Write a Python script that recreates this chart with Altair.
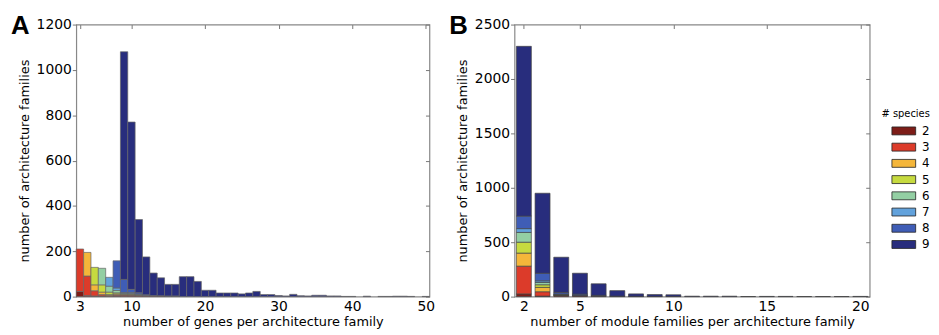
import altair as alt
import pandas as pd

SPECIES = [2, 3, 4, 5, 6, 7, 8, 9]
COLORS = ["#7d1d18", "#dc3b2a", "#f4b63a", "#c6da3f", "#93cfa3", "#62a2dc", "#3f5db6", "#282d7d"]

# Panel A: number of genes per architecture family (3..50)
A_N = list(range(3, 51))
Z34 = [0] * 34
A_S2 = [23, 5, 3, 3, 2, 4, 6, 6, 5, 4, 3, 3, 2, 2] + Z34
A_S3 = [187, 86, 23, 6, 3, 4, 3, 2, 1, 1, 0, 0, 0, 0] + Z34
A_S4 = [0, 104, 26, 11, 4, 4, 2, 2, 1, 0, 0, 0, 0, 0] + Z34
A_S5 = [0, 0, 77, 32, 11, 5, 2, 2, 1, 0, 0, 0, 0, 0] + Z34
A_S6 = [0, 0, 0, 73, 26, 10, 2, 2, 1, 0, 0, 0, 0, 0] + Z34
A_S7 = [0, 0, 0, 0, 39, 11, 3, 4, 2, 0, 0, 0, 0, 0] + Z34
A_S8 = [0, 0, 0, 0, 0, 120, 58, 14, 6, 3, 2, 1, 1, 1] + Z34
A_S9 = [0, 0, 0, 0, 0, 0, 1004, 738, 323, 167, 99, 79, 51, 51,
        88, 88, 67, 28, 28, 16, 16, 16, 12, 16, 23, 9, 9, 5, 3, 10, 4, 3,
        6, 6, 3, 3, 1, 1, 0, 2, 0, 1, 1, 2, 2, 1, 0, 1]

# Panel B: number of module families per architecture family (2..20)
B_N = list(range(2, 21))
B_S2 = [25, 5, 10, 8, 5, 3, 2, 1, 1, 0, 0, 0, 0, 0, 0, 0, 0, 0, 0]
B_S3 = [255, 40, 3, 2, 0, 0, 0, 0, 0, 0, 0, 0, 0, 0, 0, 0, 0, 0, 0]
B_S4 = [120, 40, 2, 0, 0, 0, 0, 0, 0, 0, 0, 0, 0, 0, 0, 0, 0, 0, 0]
B_S5 = [100, 24, 2, 0, 0, 0, 0, 0, 0, 0, 0, 0, 0, 0, 0, 0, 0, 0, 0]
B_S6 = [90, 21, 2, 0, 0, 0, 0, 0, 0, 0, 0, 0, 0, 0, 0, 0, 0, 0, 0]
B_S7 = [35, 15, 5, 3, 2, 0, 0, 0, 0, 0, 0, 0, 0, 0, 0, 0, 0, 0, 0]
B_S8 = [115, 70, 15, 10, 5, 2, 1, 1, 0, 0, 0, 0, 0, 0, 0, 0, 0, 0, 0]
B_S9 = [1560, 735, 323, 192, 106, 50, 22, 17, 16, 4, 4, 4, 1, 2, 2, 1, 1, 1, 2]

A_XTICKS = [3, 10, 20, 30, 40, 50]
A_YTICKS = [0, 200, 400, 600, 800, 1000, 1200]
B_XTICKS = [2, 5, 10, 15, 20]
B_YTICKS = [0, 500, 1000, 1500, 2000, 2500]

FONT = "DejaVu Sans"
TICK = "#777777"


def long_df(ns, series):
    rows = []
    for sp, vals in zip(SPECIES, series):
        for n, v in zip(ns, vals):
            if v > 0:
                rows.append({"n": n, "species": sp, "count": v})
    return pd.DataFrame(rows)


def panel(df, xdom, ydom, xticks, yticks, xtitle, half, letter, legend, width, stroke):
    base = (
        alt.Chart(df)
        .transform_calculate(x0=f"datum.n - {half}", x1=f"datum.n + {half}")
        .transform_stack(stack="count", groupby=["n"],
                         sort=[alt.SortField("species", order="ascending")],
                         as_=["y0", "y1"])
    )
    xs = alt.Scale(domain=xdom, nice=False, zero=False)
    ys = alt.Scale(domain=ydom, nice=False)
    bars = base.mark_bar(stroke=stroke, strokeWidth=0.7, opacity=1).encode(
        x=alt.X("x0:Q", scale=xs,
                axis=alt.Axis(values=xticks, title=xtitle, ticks=False, domain=False, format="d",
                              labelPadding=3, titlePadding=2, grid=False, labelFlush=False)),
        x2="x1:Q",
        y=alt.Y("y0:Q", scale=ys,
                axis=alt.Axis(values=yticks, title="number of architecture families", format="d",
                              tickSize=4, tickColor=TICK, domain=False, labelPadding=1,
                              titlePadding=5, grid=False, labelFlush=False)),
        y2="y1:Q",
        color=alt.Color("species:O", scale=alt.Scale(domain=SPECIES, range=COLORS),
                        legend=legend),
    )
    ghost = base.mark_bar(opacity=0).encode(
        x=alt.X("x0:Q", scale=xs,
                axis=alt.Axis(orient="top", values=xticks, labels=False, title=None,
                              domain=False, tickSize=4, offset=-4, tickColor=TICK, grid=False)),
        x2="x1:Q",
        y=alt.Y("y0:Q", scale=ys,
                axis=alt.Axis(orient="right", values=yticks, labels=False, title=None,
                              domain=False, tickSize=4, offset=-4, tickColor=TICK, grid=False)),
        y2="y1:Q",
    )
    lab = alt.Chart(pd.DataFrame({"label": [letter]})).mark_text(
        align="left", baseline="alphabetic", fontSize=26, fontWeight="bold",
        font="Liberation Sans", color="black"
    ).encode(text="label:N", x=alt.value(-66), y=alt.value(10))
    return (
        alt.layer(bars, ghost, lab)
        .resolve_axis(x="independent", y="independent")
        .properties(width=width, height=275)
    )


dfA = long_df(A_N, [A_S2, A_S3, A_S4, A_S5, A_S6, A_S7, A_S8, A_S9])
dfB = long_df(B_N, [B_S2, B_S3, B_S4, B_S5, B_S6, B_S7, B_S8, B_S9])

legendB = alt.Legend(
    orient="none", legendX=371, legendY=85, title="# species", titleFontSize=10,
    titleFontWeight="normal", titleFont=FONT, titleColor="black", titleAnchor="start",
    titlePadding=4, labelFontSize=12, labelFont=FONT, labelColor="black",
    symbolType="M-1.5,-0.5H1.5V0.5H-1.5Z", symbolSize=256, symbolStrokeColor="#222222",
    symbolStrokeWidth=0.8, symbolOpacity=1, rowPadding=1.4, symbolOffset=14,
    labelOffset=10, padding=0,
)

pA = panel(dfA, [2.5, 50.5], [0, 1200], A_XTICKS, A_YTICKS,
           "number of genes per architecture family", 0.5, "A", None, 357, "#666666")
pB = panel(dfB, [1.5, 20.5], [0, 2500], B_XTICKS, B_YTICKS,
           "number of module families per architecture family", 0.4, "B", legendB, 359, "#444444")

chart = (
    alt.hconcat(pA, pB, spacing=13)
    .resolve_legend(color="independent")
    .properties(padding={"left": 2, "top": 3, "right": 0, "bottom": 0})
    .configure_view(stroke="#888888", strokeWidth=1.2)
    .configure_axis(labelFont=FONT, labelFontSize=14, labelColor="black",
                    titleFont=FONT, titleFontSize=13, titleFontWeight="normal",
                    titleColor="black")
)

chart.save("out.html", embed_options={"renderer": "svg", "actions": False})
